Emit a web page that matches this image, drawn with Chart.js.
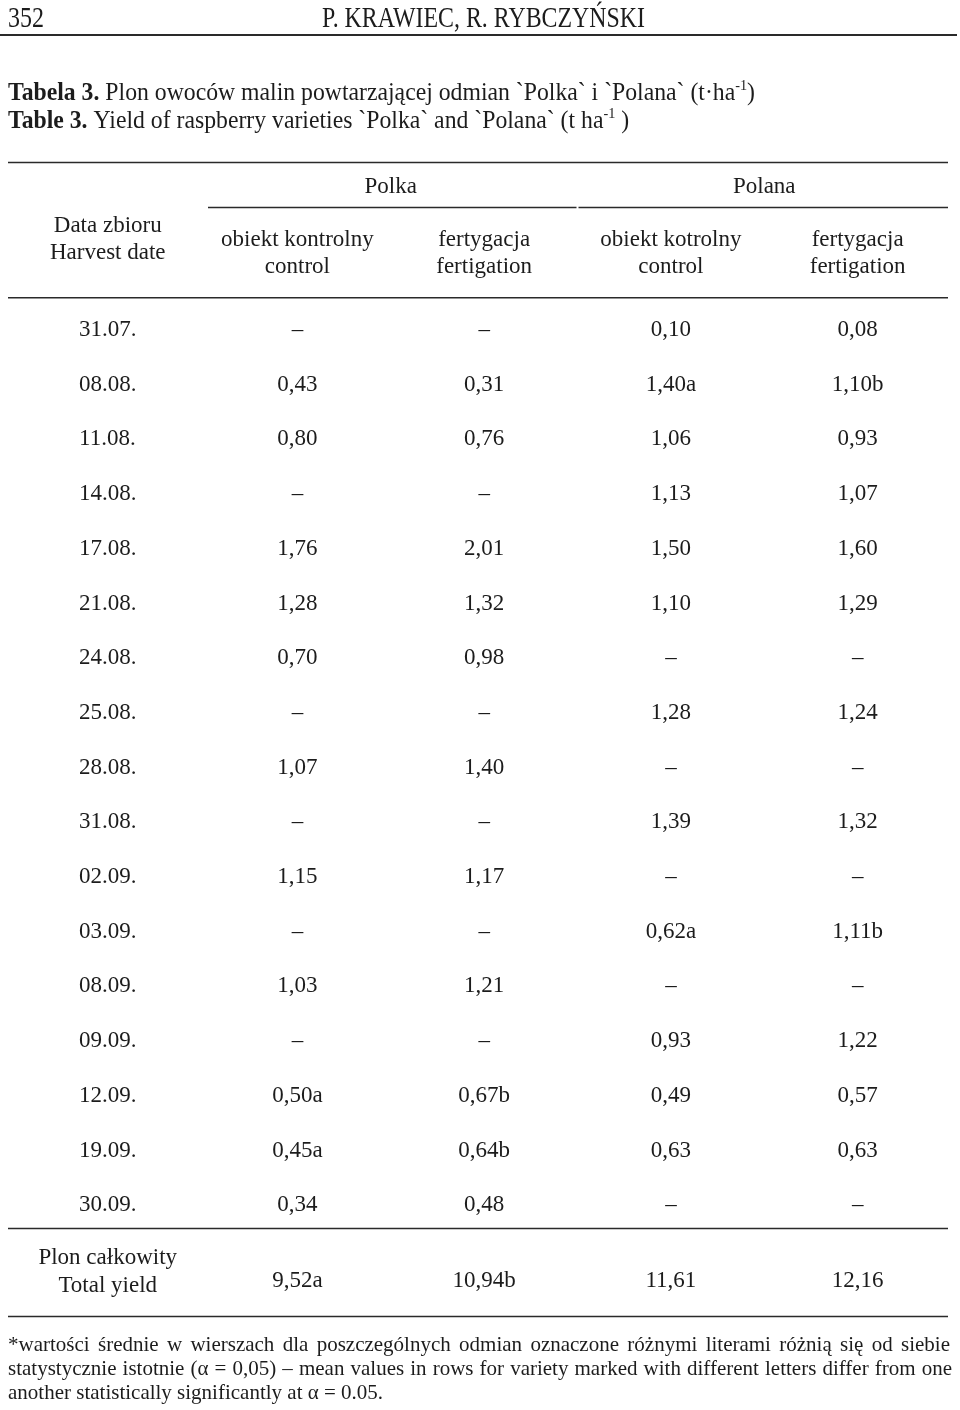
<!DOCTYPE html>
<html>
<head>
<meta charset="utf-8">
<script src="https://cdn.jsdelivr.net/npm/chart.js@4.4.1/dist/chart.umd.min.js"></script>
<style>
  html, body { margin: 0; padding: 0; background: #fff; }
  canvas { display: block; }
</style>
</head>
<body>
<canvas id="tbl" width="960" height="1410"></canvas>
<script>
// rows of the table
const harvestDates = ['31.07.', '08.08.', '11.08.', '14.08.', '17.08.', '21.08.', '24.08.', '25.08.',
    '28.08.', '31.08.', '02.09.', '03.09.', '08.09.', '09.09.', '12.09.', '19.09.', '30.09.'];

const varieties = ['Polka', 'Polana'];
const columnKeys = ['polkaControl', 'polkaFert', 'polanaControl', 'polanaFert'];
const columnHeaders = [
    ['obiekt kontrolny', 'control'],
    ['fertygacja', 'fertigation'],
    ['obiekt kotrolny', 'control'],
    ['fertygacja', 'fertigation']
];

// yield t/ha, null = no harvest (–)
const polkaControl = [null, 0.43, 0.80, null, 1.76, 1.28, 0.70, null, 1.07, null, 1.15, null, 1.03, null, 0.50, 0.45, 0.34];
const polkaFert = [null, 0.31, 0.76, null, 2.01, 1.32, 0.98, null, 1.40, null, 1.17, null, 1.21, null, 0.67, 0.64, 0.48];
const polanaControl = [0.10, 1.40, 1.06, 1.13, 1.50, 1.10, null, 1.28, null, 1.39, null, 0.62, null, 0.93, 0.49, 0.63, null];
const polanaFert = [0.08, 1.10, 0.93, 1.07, 1.60, 1.29, null, 1.24, null, 1.32, null, 1.11, null, 1.22, 0.57, 0.63, null];

// significance letters
const polkaControlSig = ['', '', '', '', '', '', '', '', '', '', '', '', '', '', 'a', 'a', ''];
const polkaFertSig = ['', '', '', '', '', '', '', '', '', '', '', '', '', '', 'b', 'b', ''];
const polanaControlSig = ['', 'a', '', '', '', '', '', '', '', '', '', 'a', '', '', '', '', ''];
const polanaFertSig = ['', 'b', '', '', '', '', '', '', '', '', '', 'b', '', '', '', '', ''];

const totalLabel = ['Plon całkowity', 'Total yield'];
const totalYield = [9.52, 10.94, 11.61, 12.16];
const totalSig = ['a', 'b', '', ''];

const footnote = [
    '*wartości średnie w wierszach dla poszczególnych odmian oznaczone różnymi literami różnią się od siebie',
    'statystycznie istotnie (α = 0,05) – mean values in rows for variety marked with different letters differ from one',
    'another statistically significantly at α = 0.05.'
];

const INK = '#1c1c1c';
const SERIF = '"Liberation Serif", "Times New Roman", serif';

const columns = [polkaControl, polkaFert, polanaControl, polanaFert];
const columnSig = [polkaControlSig, polkaFertSig, polanaControlSig, polanaFertSig];

const fmt = v => v.toFixed(2).replace('.', ',');

const datasets = columns.map((vals, c) => ({
    label: columnKeys[c],
    data: vals.map((v, r) => ({ x: columnKeys[c], y: harvestDates[r], v: v, sig: columnSig[c][r] })),
    pointRadius: 0,
    pointHoverRadius: 0
}));

function hline(ctx, x1, x2, y, w) {
    ctx.save();
    ctx.strokeStyle = '#2a2a2a';
    ctx.lineWidth = w;
    ctx.beginPath();
    ctx.moveTo(x1, y);
    ctx.lineTo(x2, y);
    ctx.stroke();
    ctx.restore();
}

function text(ctx, str, x, y, size, align) {
    ctx.font = size + 'px ' + SERIF;
    ctx.textAlign = align || 'center';
    ctx.textBaseline = 'middle';
    ctx.fillStyle = INK;
    ctx.fillText(str, x, y);
}

const fontOf = s => (s.bold ? 'bold ' : '') + (s.sup ? 15 : s.size) + 'px ' + SERIF;

function segWidth(ctx, segs) {
    let w = 0;
    segs.forEach(s => { ctx.font = fontOf(s); w += ctx.measureText(s.t).width; });
    return w;
}

// run of segments drawn with a horizontal squeeze (caption, running head)
function segLine(ctx, segs, x, y, sx) {
    ctx.save();
    ctx.translate(x, y);
    ctx.scale(sx, 1);
    ctx.textBaseline = 'alphabetic';
    ctx.textAlign = 'left';
    ctx.fillStyle = INK;
    let cx = 0;
    segs.forEach(s => {
        ctx.font = fontOf(s);
        ctx.fillText(s.t, cx, s.sup ? -10 : 0);
        cx += ctx.measureText(s.t).width;
    });
    ctx.restore();
}

function justified(ctx, str, x, y, width, size) {
    ctx.font = size + 'px ' + SERIF;
    ctx.textAlign = 'left';
    ctx.textBaseline = 'middle';
    ctx.fillStyle = INK;
    const words = str.split(' ');
    const ww = words.map(s => ctx.measureText(s).width);
    const gap = (width - ww.reduce((a, b) => a + b, 0)) / (words.length - 1);
    let cx = x;
    words.forEach((s, i) => { ctx.fillText(s, cx, y); cx += ww[i] + gap; });
}

const tablePlugin = {
    id: 'tablePlugin',
    afterDraw(chart) {
        const ctx = chart.ctx;
        const xs = chart.scales.x;
        const ys = chart.scales.y;
        const area = chart.chartArea;

        // running head
        const num = [{ t: '352', size: 30 }];
        const head = [{ t: 'P. KRAWIEC, R. RYBCZYŃSKI', size: 30 }];
        segLine(ctx, num, 8, 27, 36 / segWidth(ctx, num));
        segLine(ctx, head, 322, 27, 323 / segWidth(ctx, head));
        hline(ctx, 0, 957, 35, 2);

        // caption
        const cap1 = [
            { t: 'Tabela 3.', size: 25, bold: true },
            { t: ' Plon owoców malin powtarzającej odmian `Polka` i `Polana` (t·ha', size: 25 },
            { t: '-1', sup: true },
            { t: ')', size: 25 }
        ];
        const cap2 = [
            { t: 'Table 3.', size: 25, bold: true },
            { t: ' Yield of raspberry varieties `Polka` and `Polana` (t ha', size: 25 },
            { t: '-1', sup: true },
            { t: ' )', size: 25 }
        ];
        const capScale = 747 / segWidth(ctx, cap1);
        segLine(ctx, cap1, 8, 100, capScale);
        segLine(ctx, cap2, 8, 128, capScale);

        // header block
        const left = 8, right = 948;
        hline(ctx, left, right, 162.5, 1.6);
        const dateX = ys.left + (ctx.font = '23px ' + SERIF, ctx.measureText(harvestDates[0]).width / 2);
        text(ctx, 'Data zbioru', dateX, 226, 23);
        text(ctx, 'Harvest date', dateX, 253, 23);
        varieties.forEach((name, g) => {
            const a = xs.getPixelForTick(g * 2);
            const b = xs.getPixelForTick(g * 2 + 1);
            text(ctx, name, (a + b) / 2, 187, 23);
        });
        const mid = (xs.getPixelForTick(1) + xs.getPixelForTick(2)) / 2;
        hline(ctx, area.left + 4, mid - 1, 207.5, 1.6);
        hline(ctx, mid + 1, right, 207.5, 1.6);
        hline(ctx, left, right, area.top - 5, 1.6);

        // cells
        chart.data.datasets.forEach((ds, c) => {
            const meta = chart.getDatasetMeta(c);
            meta.data.forEach((pt, r) => {
                const d = ds.data[r];
                text(ctx, d.v === null ? '–' : fmt(d.v) + d.sig, pt.x, pt.y, 23);
            });
        });

        // total row
        hline(ctx, left, right, area.bottom - 4, 1.6);
        text(ctx, totalLabel[0], dateX, 1258, 23);
        text(ctx, totalLabel[1], dateX, 1286, 23);
        totalYield.forEach((v, c) => {
            text(ctx, fmt(v) + totalSig[c], xs.getPixelForTick(c), 1281, 23);
        });
        hline(ctx, left, right, 1316.5, 1.6);

        // footnote
        justified(ctx, footnote[0], 8, 1345, 942, 21);
        justified(ctx, footnote[1], 8, 1369, 944, 21);
        text(ctx, footnote[2], 8, 1393, 21, 'left');
    }
};

new Chart(document.getElementById('tbl'), {
    type: 'scatter',
    data: { datasets: datasets },
    options: {
        responsive: false,
        animation: false,
        devicePixelRatio: 1,
        events: [],
        layout: { padding: { left: 79, right: 9, top: 160, bottom: 177.5 } },
        plugins: {
            legend: { display: false },
            tooltip: { enabled: false }
        },
        scales: {
            x: {
                type: 'category',
                position: 'top',
                labels: columnKeys,
                offset: true,
                grid: { display: false, drawTicks: false },
                border: { display: false },
                afterFit: s => { s.height = 142.7; },
                ticks: {
                    autoSkip: false,
                    maxRotation: 0,
                    padding: 22.2,
                    color: INK,
                    font: { family: SERIF, size: 23, lineHeight: 27 / 23 },
                    callback: (val, i) => columnHeaders[i]
                }
            },
            y: {
                type: 'category',
                labels: harvestDates,
                offset: true,
                grid: { display: false, drawTicks: false },
                border: { display: false },
                afterFit: s => { s.width = 125; },
                ticks: {
                    autoSkip: false,
                    crossAlign: 'far',
                    color: INK,
                    font: { family: SERIF, size: 23 }
                }
            }
        }
    },
    plugins: [tablePlugin]
});
</script>
</body>
</html>
